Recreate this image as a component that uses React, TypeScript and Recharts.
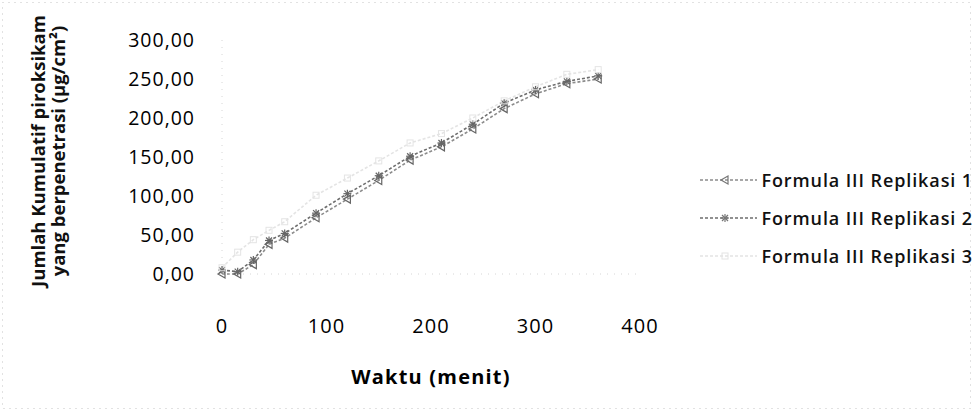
import React from 'react';
import { LineChart, Line, XAxis, YAxis, Legend } from 'recharts';

const times = [0, 15, 30, 45, 60, 90, 120, 150, 180, 210, 240, 270, 300, 330, 360];
const replikasi1 = [0, 0, 12, 38, 46, 72, 96, 120, 146, 163, 186, 212, 231, 244, 250];
const replikasi2 = [5, 3, 18, 43, 52, 78, 103, 126, 151, 168, 192, 219, 236, 247, 254];
const replikasi3 = [8, 28, 44, 56, 67, 101, 123, 145, 168, 180, 200, 222, 240, 256, 262];
const seriesNames = ['Formula III Replikasi 1', 'Formula III Replikasi 2', 'Formula III Replikasi 3'];
const xTicks = [0, 100, 200, 300, 400];
const yTicks = [0, 50, 100, 150, 200, 250, 300];
const xTitle = 'Waktu (menit)';
const yTitle1 = 'Jumlah Kumulatif piroksikam';
const yTitle2 = 'yang berpenetrasi (µg/cm²)';

const data = times.map((t, i) => ({ t, s1: replikasi1[i], s2: replikasi2[i], s3: replikasi3[i] }));

const colors = ['#8c8c8c', '#6e6e6e', '#e4e4e4'];
const FONT = '"Open Sans", sans-serif';

const triangle = (cx: number, cy: number, color: string, key?: any) => (
  <path key={key} d={`M${cx - 4},${cy} L${cx + 3},${cy - 4} L${cx + 3},${cy + 4} Z`} fill="none" stroke={color} strokeWidth={1.2} />
);
const star = (cx: number, cy: number, color: string, key?: any) => (
  <g key={key} stroke={color} strokeWidth={1.2}>
    <line x1={cx - 4} y1={cy} x2={cx + 4} y2={cy} />
    <line x1={cx} y1={cy - 4} x2={cx} y2={cy + 4} />
    <line x1={cx - 3} y1={cy - 3} x2={cx + 3} y2={cy + 3} />
    <line x1={cx - 3} y1={cy + 3} x2={cx + 3} y2={cy - 3} />
  </g>
);
const square = (cx: number, cy: number, color: string, key?: any) => (
  <rect key={key} x={cx - 3} y={cy - 3} width={6} height={6} fill="none" stroke={color} strokeWidth={1} />
);
const markers = [triangle, star, square];

const fmt = (v: number) => v.toFixed(2).replace('.', ',');

const renderLegend = () => (
  <div style={{ fontFamily: FONT }}>
    {seriesNames.map((name, i) => (
      <div key={name} style={{ display: 'flex', alignItems: 'center', height: 38 }}>
        <svg width={67} height={20} style={{ display: 'block' }}>
          <line x1={5} y1={10} x2={62} y2={10} stroke={colors[i]} strokeWidth={1.5} strokeDasharray="3 2" />
          {markers[i](30, 10, colors[i] === '#e4e4e4' ? colors[i] : '#777')}
        </svg>
        <span style={{ fontSize: 18, fontWeight: 600, color: '#111', letterSpacing: 0.9, whiteSpace: 'nowrap' }}>{name}</span>
      </div>
    ))}
  </div>
);

const YTitle = (props: any) => {
  const { viewBox } = props;
  const cy = viewBox.y + viewBox.height / 2 - 6;
  return (
    <g fontFamily={FONT} fontWeight={700} fontSize={18.5} fill="#111">
      <text x={45} y={cy} textAnchor="middle" transform={`rotate(-90, 45, ${cy})`}>{yTitle1}</text>
      <text x={65} y={cy} textAnchor="middle" transform={`rotate(-90, 65, ${cy})`}>{yTitle2}</text>
    </g>
  );
};

export default function App() {
  return (
    <div style={{ position: 'absolute', left: 0, top: 0, width: 973, height: 419, background: '#fff' }}>
      <svg width={973} height={419} style={{ position: 'absolute', left: 0, top: 0 }}>
        <rect x={2.5} y={2.5} width={968} height={406} fill="none" stroke="#c4c4c4" strokeDasharray="1 5" />
      </svg>
      <LineChart width={973} height={419} data={data} margin={{ top: 40, right: 333, bottom: 0, left: 122 }}>
        <XAxis
          dataKey="t"
          type="number"
          domain={[0, 400]}
          ticks={xTicks}
          tickLine={false}
          axisLine={{ stroke: '#d6d6d6', strokeDasharray: '1 6' }}
          tickMargin={39}
          height={145}
          tick={{ fontFamily: FONT, fontSize: 20, fill: '#000', letterSpacing: 1 }}
          label={{ value: xTitle, position: 'insideBottom', offset: 35, style: { fontFamily: FONT, fontSize: 20, fontWeight: 700, fill: '#000', letterSpacing: 1.2 } }}
        />
        <YAxis
          type="number"
          domain={[0, 300]}
          ticks={yTicks}
          tickFormatter={fmt}
          tickLine={false}
          axisLine={{ stroke: '#d6d6d6', strokeDasharray: '1 6' }}
          tickMargin={21}
          width={100}
          tick={{ fontFamily: FONT, fontSize: 19.5, fill: '#000', letterSpacing: 1 }}
          label={{ content: (p: any) => <YTitle {...p} /> }}
        />
        {['s1', 's2', 's3'].map((k, i) => (
          <Line
            key={k}
            dataKey={k}
            name={seriesNames[i]}
            type="linear"
            stroke={colors[i]}
            strokeWidth={1.6}
            strokeDasharray="3 2"
            isAnimationActive={false}
            dot={(p: any) => markers[i](p.cx, p.cy, i === 2 ? colors[i] : '#666', p.key ?? `${k}-${p.index}`)}
            activeDot={false}
          />
        ))}
        <Legend layout="vertical" align="center" verticalAlign="middle" wrapperStyle={{ left: 695, top: 161, width: 278 }} content={renderLegend} />
      </LineChart>
    </div>
  );
}
